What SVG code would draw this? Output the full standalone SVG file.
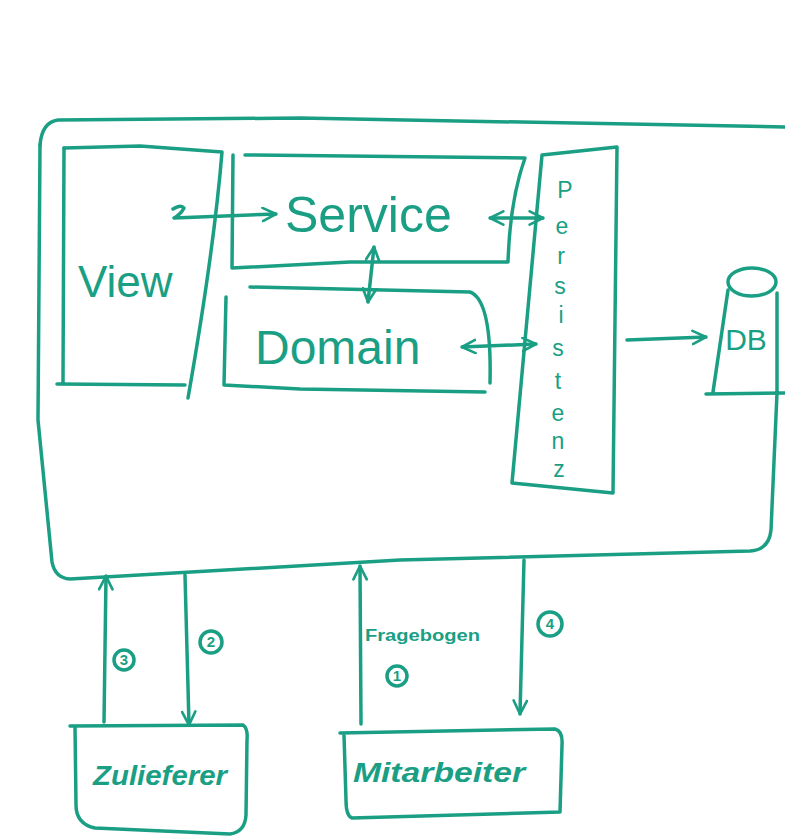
<svg xmlns="http://www.w3.org/2000/svg" width="785" height="837" viewBox="0 0 785 837">
<defs>
<style>
.ln{fill:none;stroke:#1a9f84;stroke-width:3.5;stroke-linecap:round;stroke-linejoin:round}
.tx{fill:#1a9f84;font-family:"Liberation Sans","DejaVu Sans",sans-serif}
.lbl{font-size:28px;font-style:italic;font-weight:bold}
.num{font-size:15px;font-weight:bold;text-anchor:middle}
.pl{font-size:23px;text-anchor:middle}
</style>
<marker id="ah" viewBox="0 0 12 12" refX="11" refY="6" markerWidth="16" markerHeight="16" markerUnits="userSpaceOnUse" orient="auto-start-reverse">
<path d="M1,1 L11,6 L1,11" fill="none" stroke="#1a9f84" stroke-width="2" stroke-linecap="round" stroke-linejoin="round"/>
</marker>
</defs>
<rect width="785" height="837" fill="#ffffff"/>

<g id="system">
<path class="ln" d="M40,145 Q42,122 58,120 L300,118 L785,127"/>
<path class="ln" d="M777,393 L771,530 Q769,550 750,551 L400,560 L70,579 Q55,578 52,562 L38,420 L40,145"/>
</g>

<g id="view">
<path class="ln" d="M64,148 L140,146 L222,152 Q214,250 188,398"/>
<path class="ln" d="M64,148 L63,383 M57,384 L185,385"/>
<text class="tx" x="78" y="297" font-size="44">View</text>
</g>

<g id="service">
<path class="ln" d="M245,155 L525,158 Q510,200 508,262 L350,262 L232,268 L233,155"/>
<text class="tx" x="285" y="232" font-size="50">Service</text>
</g>

<g id="domain">
<path class="ln" d="M250,287 L470,292 Q492,300 490,383 M226,297 L224,385 L300,389 L485,392"/>
<text class="tx" x="255" y="364" font-size="48">Domain</text>
</g>

<g id="persistenz">
<path class="ln" d="M542,155 L617,147 L613,493 L512,483 Z"/>
<text class="tx pl"><tspan x="565" y="198">P</tspan><tspan x="562" y="234">e</tspan><tspan x="561" y="264">r</tspan><tspan x="560" y="294">s</tspan><tspan x="561" y="323">i</tspan><tspan x="558" y="356">s</tspan><tspan x="558" y="389">t</tspan><tspan x="558" y="421">e</tspan><tspan x="558" y="449">n</tspan><tspan x="559" y="477">z</tspan></text>
</g>

<g id="db">
<ellipse class="ln" cx="752" cy="282" rx="24" ry="14"/>
<path class="ln" d="M728,290 L713,392 M777,293 L777,393 M706,394 L785,393"/>
<text class="tx" x="746" y="350" font-size="30" text-anchor="middle">DB</text>
</g>

<g id="zulieferer">
<path class="ln" d="M70,726 L243,725 Q248,728 247,740 L246,815 Q245,832 230,834 L95,828 Q76,824 76,805 L75,726"/>
<text class="tx lbl" x="93" y="785" textLength="134" lengthAdjust="spacingAndGlyphs">Zulieferer</text>
</g>

<g id="mitarbeiter">
<path class="ln" d="M340,733 L555,729 Q563,731 562,745 L560,812 L352,818 Q346,816 346,800 L344,735"/>
<text class="tx lbl" x="353" y="782" textLength="172" lengthAdjust="spacingAndGlyphs">Mitarbeiter</text>
</g>

<g id="connectors">
<path class="ln" d="M173,209 Q181,204 184,208 Q181,214 174,218 L276,214" marker-end="url(#ah)"/>
<path class="ln" d="M490,218 L543,218" marker-start="url(#ah)" marker-end="url(#ah)"/>
<path class="ln" d="M462,347 L536,344" marker-start="url(#ah)" marker-end="url(#ah)"/>
<path class="ln" d="M374,247 L368,302" marker-start="url(#ah)" marker-end="url(#ah)"/>
<path class="ln" d="M627,340 L706,337" marker-end="url(#ah)"/>

<path class="ln" d="M104,722 L106,576" marker-end="url(#ah)"/>
<circle class="ln" cx="124" cy="660" r="10" stroke-width="2.5"/>
<text class="tx num" x="124" y="665">3</text>

<path class="ln" d="M185,575 L189,725" marker-end="url(#ah)"/>
<circle class="ln" cx="211" cy="642" r="11" stroke-width="2.5"/>
<text class="tx num" x="211" y="647">2</text>

<path class="ln" d="M361,724 L360,566" marker-end="url(#ah)"/>
<text class="tx" x="365" y="641" font-size="16" font-weight="bold" textLength="115" lengthAdjust="spacingAndGlyphs">Fragebogen</text>
<circle class="ln" cx="397" cy="676" r="10" stroke-width="2.5"/>
<text class="tx num" x="397" y="681">1</text>

<path class="ln" d="M524,560 L520,714" marker-end="url(#ah)"/>
<circle class="ln" cx="550" cy="624" r="12" stroke-width="2.5"/>
<text class="tx num" x="550" y="629">4</text>
</g>
</svg>
